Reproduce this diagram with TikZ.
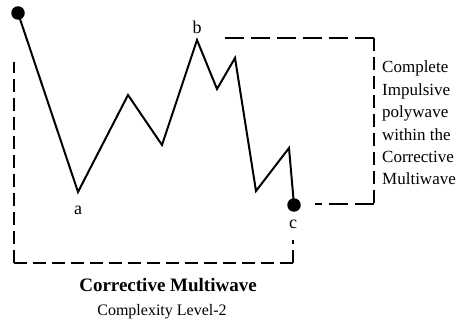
\documentclass[tikz,border=0pt]{standalone}
\usepackage{fontspec}
\setmainfont{Liberation Serif}
\begin{document}
\begin{tikzpicture}[x=1pt,y=-1pt,
  wave/.style={line width=2pt, line join=miter},
  brk/.style={line width=2pt, dash pattern=on 13pt off 6pt},
  brklong/.style={line width=2pt, dash pattern=on 19pt off 7pt},
  dotnode/.style={circle, fill=black, inner sep=0pt, minimum size=13.5pt},
  lbl/.style={font=\fontsize{18}{20}\selectfont, inner sep=0pt}]
\useasboundingbox (0,0) rectangle (460,326);
\fill[white] (0,0) rectangle (460,326);
% wave points
\node[dotnode] (s) at (18,13) {};
\coordinate (a) at (78,192);
\coordinate (w1) at (128,95);
\coordinate (w2) at (162,145);
\coordinate (b) at (197,40);
\coordinate (w3) at (217,89);
\coordinate (w4) at (235,58);
\coordinate (w5) at (256,191);
\coordinate (w6) at (289,148);
\node[dotnode] (c) at (294,205) {};
\draw[wave] (s.center) -- (a) -- (w1) -- (w2) -- (b) -- (w3) -- (w4) -- (w5) -- (w6) -- (c.center);
% labels
\node[lbl] (la) at (78,210) {a};
\node[lbl] (lb) at (197,27) {b};
\node[lbl] (lc) at (293,224) {c};
% left bracket
\coordinate (L1) at (14,62);
\coordinate (L2) at (14,263);
\coordinate (L3) at (293,263);
\coordinate (L4) at (293,240);
\draw[brk] (L2) -- (L1);
\draw[brk] (L2) -- (L3);
\draw[brk] (L3) -- (L4);
% right bracket
\coordinate (R1) at (218,38);
\coordinate (R2) at (374,38);
\coordinate (R3) at (374,204);
\coordinate (R4) at (315,204);
\draw[brklong] (R2) -- (R1);
\draw[brk] (R2) -- (R3);
\draw[brklong] (R3) -- (R4);
% side text
\node[anchor=north west, align=left, inner sep=0pt, font=\fontsize{17}{22.4}\selectfont] (side) at (382,61)
  {Complete\\Impulsive\\polywave\\within the\\Corrective\\Multiwave};
% titles
\node[anchor=base, inner sep=0pt, font=\fontsize{19}{22}\selectfont\bfseries] (t1) at (168,291) {Corrective Multiwave};
\node[anchor=base, inner sep=0pt, font=\fontsize{16}{20}\selectfont] (t2) at (162,315) {Complexity Level-2};
\end{tikzpicture}
\end{document}
